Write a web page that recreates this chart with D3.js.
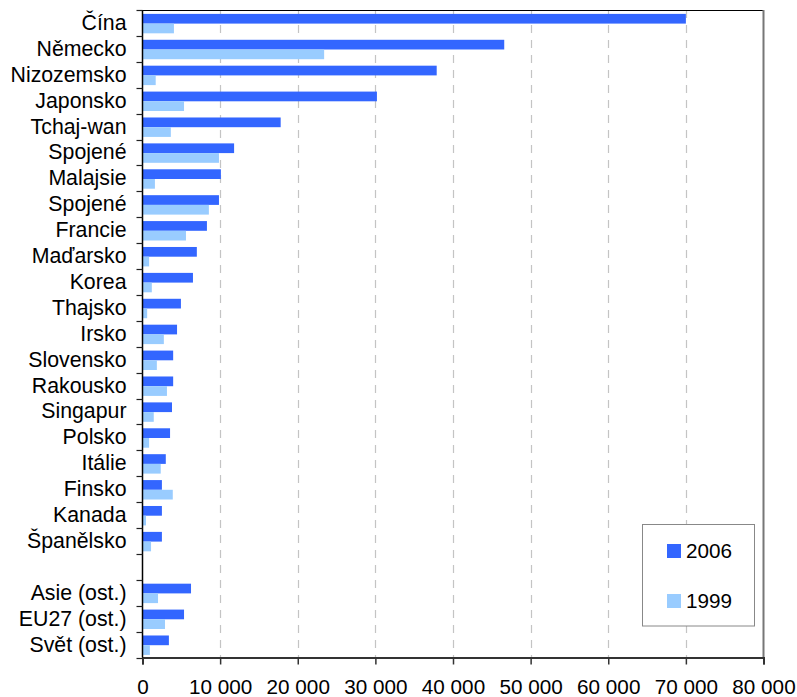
<!DOCTYPE html>
<html>
<head>
<meta charset="utf-8">
<script src="https://cdn.jsdelivr.net/npm/d3@7"></script>
<style>
  html, body { margin: 0; padding: 0; background: #fff; }
  svg { display: block; font-family: "Liberation Sans", Arial, sans-serif; }
</style>
</head>
<body>
<svg id="chart" width="797" height="697"></svg>
<script>
const categories = ["Čína","Německo","Nizozemsko","Japonsko","Tchaj-wan","Spojené","Malajsie","Spojené","Francie","Maďarsko","Korea","Thajsko","Irsko","Slovensko","Rakousko","Singapur","Polsko","Itálie","Finsko","Kanada","Španělsko","","Asie (ost.)","EU27 (ost.)","Svět (ost.)"];
const values2006 = [70000,46600,37900,30200,17800,11800,10100,9850,8300,7000,6500,4950,4450,3950,3950,3800,3550,3000,2500,2500,2500,null,6250,5350,3400];
const values1999 = [4050,23400,1700,5350,3650,9850,1600,8550,5600,850,1200,600,2750,1850,3150,1450,850,2350,3900,450,1100,null,2000,2900,950];
const seriesNames = ["2006","1999"];
const seriesColors = ["#3366FF","#99CCFF"];
const xTicks = [0,10000,20000,30000,40000,50000,60000,70000,80000];

(function () {
const svg = d3.select("#chart");
const pLeft = 142.5, pRight = 763.5, pTop = 10, pBottom = 657.5;

const x = d3.scaleLinear().domain([0, 80000]).range([pLeft, pRight]);
const idx = categories.map((d, i) => i);
const y = d3.scaleBand().domain(idx).range([pTop, pBottom]).padding(0);
const step = y.step();
const barH = step * 0.375;
const off = step * 0.15;

const fmt = d => d3.format(",")(d).replace(/,/g, " ");

// gridlines
svg.append("g").selectAll("line").data(xTicks.filter(t => t > 0 && t < 80000)).join("line")
  .attr("x1", d => Math.round(x(d)) + 0.5).attr("x2", d => Math.round(x(d)) + 0.5)
  .attr("y1", pTop).attr("y2", pBottom)
  .attr("stroke", "#c4c4c4").attr("stroke-width", 1.2)
  .attr("stroke-dasharray", "8,7");

// bars
const series = [values2006, values1999];
series.forEach((vals, s) => {
  svg.append("g").selectAll("rect").data(idx.filter(i => vals[i] != null)).join("rect")
    .attr("x", x(0))
    .attr("y", i => y(i) + off + s * barH)
    .attr("width", i => x(vals[i]) - x(0))
    .attr("height", barH)
    .attr("fill", seriesColors[s]);
});

// plot frame top and right
svg.append("line").attr("x1", pLeft).attr("x2", pRight).attr("y1", pTop + 0.5).attr("y2", pTop + 0.5)
  .attr("stroke", "#000").attr("stroke-width", 1);
svg.append("line").attr("x1", pRight).attr("x2", pRight).attr("y1", pTop).attr("y2", pBottom)
  .attr("stroke", "#777").attr("stroke-width", 2);

// x axis
const xAxis = d3.axisBottom(x).tickValues(xTicks).tickFormat(fmt).tickSize(7).tickPadding(0);
const gx = svg.append("g").attr("transform", `translate(0,${pBottom})`).call(xAxis);
gx.select(".domain").attr("stroke", "#333").attr("stroke-width", 2);
gx.selectAll(".tick line").attr("stroke", "#333").attr("stroke-width", 1.5);
gx.selectAll(".tick text").attr("font-size", 20.7).attr("fill", "#000")
  .attr("y", 36.5).attr("dy", 0).attr("font-family", "Liberation Sans, Arial, sans-serif");

// y axis: line + ticks at band boundaries
svg.append("line").attr("x1", pLeft).attr("x2", pLeft).attr("y1", pTop).attr("y2", pBottom)
  .attr("stroke", "#000").attr("stroke-width", 1.5);
const bounds = idx.map(i => y(i)).concat([pBottom]);
svg.append("g").selectAll("line").data(bounds).join("line")
  .attr("x1", pLeft - 6).attr("x2", pLeft)
  .attr("y1", d => Math.round(d) + 0.5).attr("y2", d => Math.round(d) + 0.5)
  .attr("stroke", "#222").attr("stroke-width", 1.2);

svg.append("g").selectAll("text").data(idx).join("text")
  .attr("x", 126.5)
  .attr("y", i => y(i) + step / 2)
  .attr("dy", "0.33em")
  .attr("text-anchor", "end")
  .attr("font-size", 21.3)
  .attr("fill", "#000")
  .text(i => categories[i]);

// legend
const lg = svg.append("g");
lg.append("rect").attr("x", 642.5).attr("y", 524.5).attr("width", 112).attr("height", 101.5)
  .attr("fill", "#fff").attr("stroke", "#888").attr("stroke-width", 1);
seriesNames.forEach((n, s) => {
  const cy = 551 + s * 50;
  lg.append("rect").attr("x", 667).attr("y", cy - 7).attr("width", 14).attr("height", 14)
    .attr("fill", seriesColors[s]);
  lg.append("text").attr("x", 686).attr("y", cy).attr("dy", "0.35em")
    .attr("font-size", 20.7).attr("fill", "#000").text(n);
});
})();
</script>
</body>
</html>
